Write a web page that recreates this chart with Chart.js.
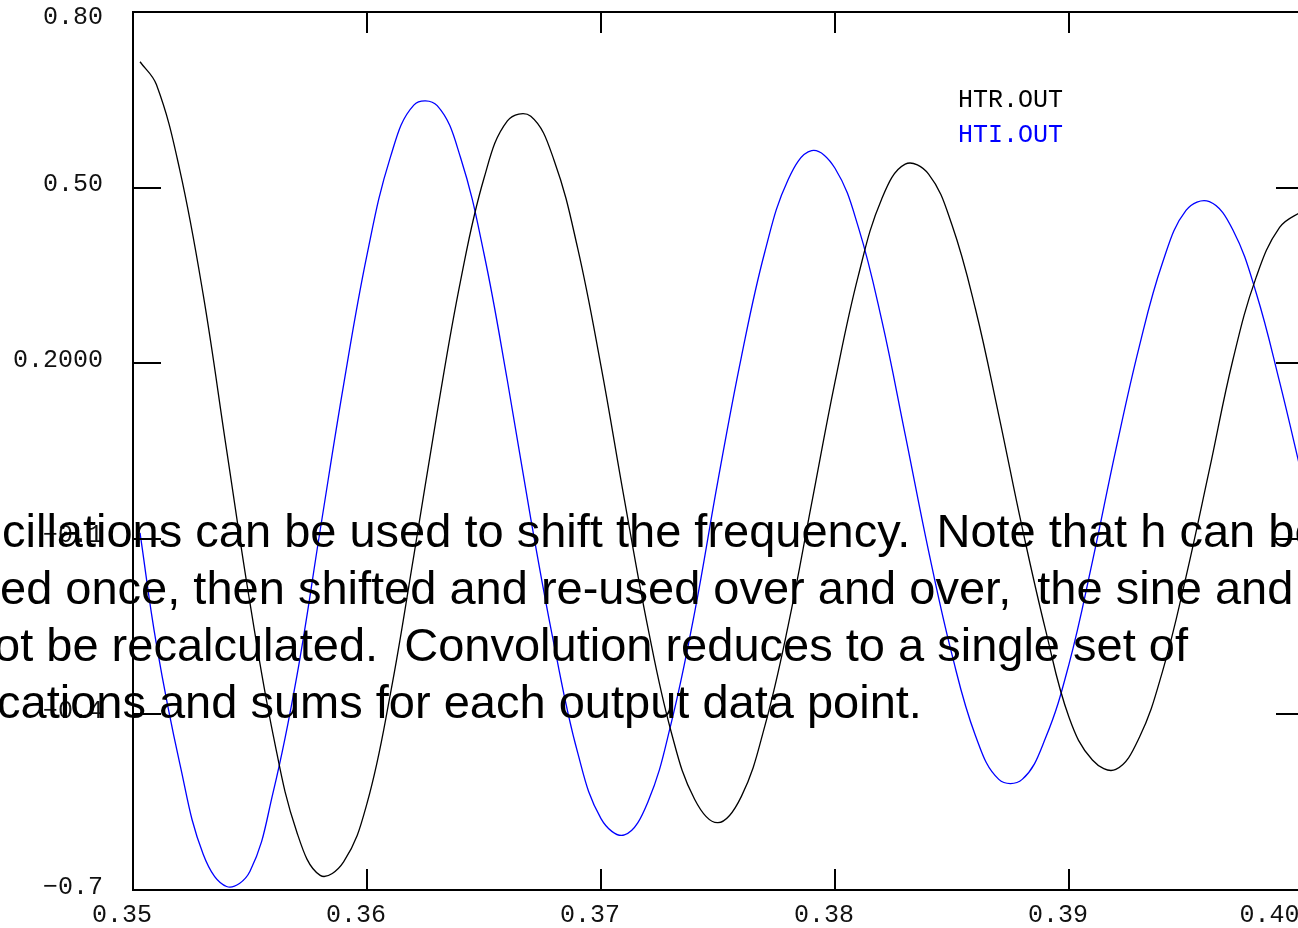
<!DOCTYPE html>
<html>
<head>
<meta charset="utf-8">
<script src="https://cdn.jsdelivr.net/npm/chart.js@4.4.1/dist/chart.umd.min.js"></script>
<style>
  html, body { margin: 0; padding: 0; background: #fff; overflow: hidden; }
  #wrap { position: relative; width: 1310px; height: 928px; }
</style>
</head>
<body>
<div id="wrap"><canvas id="hChart" width="1310" height="928"></canvas></div>
<script>
// frequency samples
const freq = [0.3503, 0.351, 0.352, 0.353, 0.354, 0.355, 0.356, 0.357, 0.358, 0.359,
              0.360, 0.361, 0.362, 0.363, 0.364, 0.365, 0.366, 0.367, 0.368, 0.369,
              0.370, 0.371, 0.372, 0.373, 0.374, 0.375, 0.376, 0.377, 0.378, 0.379,
              0.380, 0.381, 0.382, 0.383, 0.384, 0.385, 0.386, 0.387, 0.388, 0.389,
              0.390, 0.391, 0.392, 0.393, 0.394, 0.395, 0.396, 0.397, 0.398, 0.399, 0.400];

// real part (HTR.OUT)
const htr = [0.715, 0.676, 0.530, 0.317, 0.052, -0.210, -0.437, -0.601, -0.675, -0.652,
             -0.552, -0.365, -0.129, 0.116, 0.341, 0.516, 0.614, 0.622, 0.546, 0.397,
             0.195, -0.033, -0.251, -0.430, -0.545, -0.585, -0.540, -0.420, -0.248, -0.040,
             0.168, 0.350, 0.481, 0.540, 0.523, 0.436, 0.293, 0.111, -0.081, -0.256,
             -0.405, -0.478, -0.494, -0.440, -0.326, -0.165, 0.018, 0.205, 0.347, 0.432, 0.461];

// imaginary part (HTI.OUT)
const hti = [-0.090, -0.280, -0.484, -0.639, -0.694, -0.668, -0.531, -0.335, -0.085, 0.163,
             0.385, 0.552, 0.641, 0.640, 0.551, 0.387, 0.170, -0.066, -0.282, -0.465,
             -0.578, -0.606, -0.550, -0.415, -0.226, 0.000, 0.211, 0.390, 0.514, 0.563,
             0.533, 0.432, 0.273, 0.078, -0.121, -0.298, -0.436, -0.511, -0.511, -0.440,
             -0.314, -0.139, 0.052, 0.228, 0.372, 0.461, 0.476, 0.428, 0.320, 0.168, 0.000];

const xTicks = [0.35, 0.36, 0.37, 0.38, 0.39, 0.40];
const xTickLabels = ['0.35', '0.36', '0.37', '0.38', '0.39', '0.40'];
const yTicks = [-0.7, -0.4, -0.1, 0.2, 0.5, 0.8];
const yTickLabels = ['\u22120.7', '\u22120.4', '\u22120.1', '0.2000', '0.50', '0.80'];

const noteLines = [
  'cillations can be used to shift the frequency.  Note that h can be',
  'ed once, then shifted and re-used over and over,  the sine and',
  'ot be recalculated.  Convolution reduces to a single set of',
  'cations and sums for each output data point.'
];

const lastX = xTicks.length - 1;
const lastY = yTicks.length - 1;

// fixed axis sizes, and no extra room for the end labels
function fixSize(prop, size) {
  return s => {
    s[prop] = size;
    s.paddingTop = s.paddingBottom = s.paddingLeft = s.paddingRight = 0;
  };
}

// box around the plot with inward tick marks, plus the file legend
const framePlugin = {
  id: 'frame',
  afterDatasetsDraw(chart) {
    const { ctx, chartArea: a, scales: { x, y } } = chart;
    ctx.save();
    ctx.strokeStyle = '#000';
    ctx.lineWidth = 2;
    ctx.strokeRect(a.left, a.top, a.right - a.left, a.bottom - a.top);
    ctx.beginPath();
    xTicks.slice(1, -1).forEach(v => {
      const px = Math.round(x.getPixelForValue(v));
      ctx.moveTo(px, a.bottom); ctx.lineTo(px, a.bottom - 21);
      ctx.moveTo(px, a.top); ctx.lineTo(px, a.top + 21);
    });
    yTicks.slice(1, -1).forEach(v => {
      const py = Math.round(y.getPixelForValue(v));
      ctx.moveTo(a.left, py); ctx.lineTo(a.left + 28, py);
      ctx.moveTo(a.right, py); ctx.lineTo(a.right - 27, py);
    });
    ctx.stroke();

    ctx.font = '25px "Liberation Mono"';
    ctx.textBaseline = 'middle';
    chart.data.datasets.forEach((ds, i) => {
      ctx.fillStyle = ds.borderColor;
      ctx.fillText(ds.label, 958, 100 + i * 35);
    });
    ctx.restore();
  }
};

// paragraph text lying over the plot
const notePlugin = {
  id: 'note',
  afterDraw(chart) {
    const ctx = chart.ctx;
    const xs = [2, 0, -6, -3];
    ctx.save();
    ctx.font = '47px "Liberation Sans", Arial, sans-serif';
    ctx.fillStyle = '#000';
    ctx.textBaseline = 'alphabetic';
    noteLines.forEach((t, i) => ctx.fillText(t, xs[i], 547 + i * 57));
    ctx.restore();
  }
};

const ctx = document.getElementById('hChart').getContext('2d');
const hChart = new Chart(ctx, {
  type: 'line',
  data: {
    datasets: [{
      label: 'HTR.OUT',
      data: freq.map((f, i) => ({ x: f, y: htr[i] })),
      borderColor: '#000000',
      borderWidth: 1.3,
      pointRadius: 0,
      tension: 0.4,
      fill: false
    }, {
      label: 'HTI.OUT',
      data: freq.map((f, i) => ({ x: f, y: hti[i] })),
      borderColor: '#0000ff',
      borderWidth: 1.3,
      pointRadius: 0,
      tension: 0.4,
      fill: false
    }]
  },
  options: {
    responsive: false,
    animation: false,
    devicePixelRatio: 1,
    layout: { padding: { top: 12, right: 7, left: 0, bottom: 0 }, autoPadding: false },
    plugins: { legend: { display: false }, tooltip: { enabled: false } },
    scales: {
      x: {
        type: 'linear',
        min: 0.35,
        max: 0.40,
        afterBuildTicks: s => { s.ticks = xTicks.map(v => ({ value: v })); },
        afterFit: fixSize('height', 38),
        grid: { display: false, drawTicks: false },
        border: { display: false },
        ticks: {
          // the last label is pulled back inside the window
          callback: (v, i) => i === lastX ? xTickLabels[i] + '   ' : xTickLabels[i],
          font: { family: 'Liberation Mono', size: 25 },
          color: '#111',
          padding: 10,
          labelOffset: -11,
          maxRotation: 0,
          autoSkip: false
        }
      },
      y: {
        min: -0.7,
        max: 0.8,
        afterBuildTicks: s => { s.ticks = yTicks.map(v => ({ value: v })); },
        afterFit: fixSize('width', 133),
        grid: { display: false, drawTicks: false },
        border: { display: false },
        ticks: {
          // top label sits just below the frame corner
          callback: (v, i) => i === lastY ? ['', yTickLabels[i]] : yTickLabels[i],
          font: c => ({ family: 'Liberation Mono', size: 25, lineHeight: c.index === lastY ? 0.64 : 1.2 }),
          color: '#111',
          padding: 30,
          labelOffset: -3,
          autoSkip: false
        }
      }
    }
  },
  plugins: [framePlugin, notePlugin]
});
</script>
</body>
</html>
